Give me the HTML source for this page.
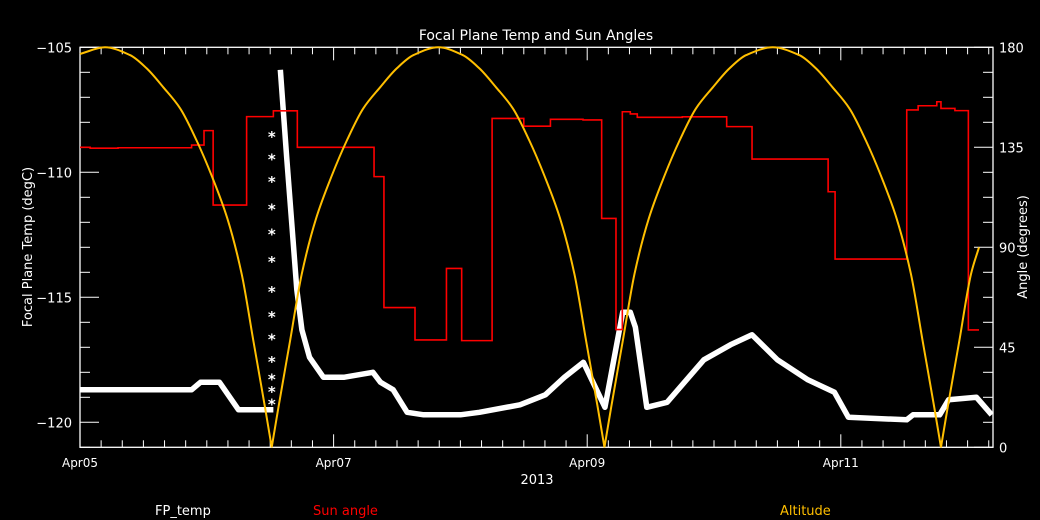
<!DOCTYPE html>
<html><head><meta charset="utf-8"><style>
html,body{margin:0;padding:0;background:#000;}
svg{display:block;font-family:"DejaVu Sans","Liberation Sans",sans-serif;}
</style></head><body>
<svg id="chart" width="1040" height="520" viewBox="0 0 1040 520" xmlns="http://www.w3.org/2000/svg">
<rect width="1040" height="520" fill="#000"/>
<text x="536" y="40" fill="#fff" font-size="14" text-anchor="middle">Focal Plane Temp and Sun Angles</text>
<text transform="translate(32,247) rotate(-90)" fill="#fff" font-size="13" text-anchor="middle">Focal Plane Temp (degC)</text>
<text transform="translate(1027,247) rotate(-90)" fill="#fff" font-size="13" text-anchor="middle">Angle (degrees)</text>
<text x="537" y="484" fill="#fff" font-size="13" text-anchor="middle">2013</text>
<text x="155" y="515" fill="#fff" font-size="13">FP_temp</text>
<text x="313" y="515" fill="#ff0000" font-size="13">Sun angle</text>
<text x="780" y="515" fill="#ffbf00" font-size="13">Altitude</text>
<g id="axes"></g>
<g id="series"></g>
</svg>
<script>
const xTickLabels = ["Apr05","Apr07","Apr09","Apr11"];
const xTickDays = [0,2,4,6];
const leftTicks = [-105,-110,-115,-120];
const rightTicks = [180,135,90,45,0];
// altitude: times (days since Apr05 00:00) and degrees
const altT = [0,0.197,0.394,0.526,0.657,0.79,0.92,1.04,1.162,1.275,1.367,1.459,1.512,
  1.565,1.657,1.749,1.862,1.984,2.104,2.234,2.367,2.498,2.63,2.826,
  3.018,3.15,3.281,3.414,3.544,3.664,3.786,3.899,3.991,4.083,4.136,
  4.189,4.281,4.373,4.486,4.608,4.728,4.858,4.991,5.122,5.254,5.463,
  5.672,5.804,5.935,6.068,6.198,6.318,6.44,6.553,6.645,6.737,6.79,
  6.843,6.935,7.027,7.09];
const altV = [177,180,176.5,170.5,162,152.5,138,122,103,78,48,18,0,
  18,48,78,103,122,138,152.5,162,170.5,176.5,180,
  176.5,170.5,162,152.5,138,122,103,78,48,18,0,
  18,48,78,103,122,138,152.5,162,170.5,176.5,180,
  176.5,170.5,162,152.5,138,122,103,78,48,18,0,
  18,48,78,90];
// sun angle step changes
const sunT = [0,0.08,0.3,0.88,0.978,1.05,1.314,1.525,1.714,2.319,2.397,2.642,2.89,3.01,3.25,3.5,3.71,3.967,4.114,4.227,4.277,4.34,4.395,4.75,5.1,5.3,5.9,5.955,6.52,6.61,6.757,6.79,6.9,7.006,7.09];
const sunV = [135,134.6,134.8,136,142.5,109,148.8,151.4,135,121.8,62.9,48.3,80.5,48,148,144.5,147.6,147.3,103,53,151,150,148.5,148.7,144.3,129.7,115,84.7,151.8,153.7,155.5,152.5,151.5,52.8,52.8];
// focal plane temp
const tempT = [0,0.88,0.95,1.1,1.25,1.525,1.58,1.63,1.68,1.71,1.75,1.81,1.92,2.08,2.31,2.37,2.47,2.58,2.71,3.0,3.15,3.47,3.67,3.82,3.97,4.14,4.28,4.34,4.38,4.47,4.63,4.92,5.13,5.3,5.5,5.74,5.95,6.06,6.52,6.57,6.78,6.85,7.07,7.19];
const tempV = [-118.7,-118.7,-118.4,-118.4,-119.5,-119.5,-105.9,-109.4,-112.7,-114.7,-116.3,-117.4,-118.2,-118.2,-118.0,-118.4,-118.7,-119.6,-119.7,-119.7,-119.6,-119.3,-118.9,-118.2,-117.6,-119.4,-115.6,-115.6,-116.2,-119.4,-119.2,-117.5,-116.9,-116.5,-117.5,-118.3,-118.8,-119.8,-119.9,-119.7,-119.7,-119.1,-119.0,-119.7];
const spikeT = 1.513;
const spikeV = [-119.2,-118.7,-118.2,-117.5,-116.6,-115.7,-114.7,-113.5,-112.4,-111.4,-110.3,-109.4,-108.5];

const X0=80, X1=993, Y0=47.3, Y1=447.3, PXD=126.8;
const xs = t => X0 + t*PXD;
const yL = v => Y0 + (-105 - v)*25;
const yR = a => Y1 - a/180*400;
const NS="http://www.w3.org/2000/svg";
function mk(tag, attrs, parent){const e=document.createElementNS(NS,tag);for(const k in attrs)e.setAttribute(k,attrs[k]);parent.appendChild(e);return e;}
const axes=document.getElementById('axes'), ser=document.getElementById('series');

const frame=mk('rect',{x:X0,y:Y0,width:X1-X0,height:Y1-Y0,fill:'none',stroke:'#fff','stroke-width':1.3},axes);


for(let i=0;i*PXD/6+X0<=X1+0.5;i++){
  const x=X0+i*PXD/6;
  const major = i%12===0;
  const len = major?13:7;
  const b=mk('line',{x1:x,y1:Y1,x2:x,y2:Y1-len,stroke:'#fff','stroke-width':1},axes);
  
  
  const t=mk('line',{x1:x,y1:Y0,x2:x,y2:Y0+len,stroke:'#fff','stroke-width':1},axes);
  
  
}
xTickLabels.forEach((s,i)=>{
  const e=mk('text',{x:xs(xTickDays[i]),y:467,fill:'#fff','font-size':12,'text-anchor':'middle'},axes);
  e.textContent=s;
  
  
});
for(let v=-105;v>=-121;v--){
  const y=yL(v); const major=(v%5===0);
  const e=mk('line',{x1:X0,y1:y,x2:X0+(major?19:10),y2:y,stroke:'#fff','stroke-width':1},axes);
  
  
}
leftTicks.forEach(v=>{
  const e=mk('text',{x:X0-8,y:yL(v)+5,fill:'#fff','font-size':13,'text-anchor':'end'},axes);
  e.textContent='\u2212'+Math.abs(v);
  
  
});
for(let i=0;i<=16;i++){
  const a=i*11.25; const y=yR(a); const major=i%4===0;
  const e=mk('line',{x1:X1,y1:y,x2:X1-(major?19:10),y2:y,stroke:'#fff','stroke-width':1},axes);
  
  
}
rightTicks.forEach(a=>{
  const e=mk('text',{x:X1+6,y:yR(a)+5,fill:'#fff','font-size':13},axes);
  e.textContent=a;
  
  
});

function tempPts(a,b){let p=[];for(let i=a;i<=b;i++)p.push(xs(tempT[i])+','+yL(tempV[i]));return p.join(' ');}
const tp1=mk('polyline',{points:tempPts(0,5),fill:'none',stroke:'#fff','stroke-width':5.5,'stroke-linejoin':'round'},ser);


const tp2=mk('polyline',{points:tempPts(6,tempT.length-1),fill:'none',stroke:'#fff','stroke-width':5.5,'stroke-linejoin':'round'},ser);


spikeV.forEach(v=>{
  const e=mk('text',{x:xs(spikeT),y:yL(v)+7,fill:'#fff','font-size':15,'font-weight':'bold','text-anchor':'middle'},ser);
  e.textContent='*';
  
  
});
let d='';
sunT.forEach((t,i)=>{
  if(i===0) d+='M'+xs(t)+','+yR(sunV[i]);
  else d+=' H'+xs(t)+' V'+yR(sunV[i]);
});
const sp=mk('path',{d:d,fill:'none',stroke:'#ff0000','stroke-width':1.6},ser);


// altitude: monotone cubic per segment between zero crossings
let segs=[],cur=[0];
for(let i=1;i<altT.length;i++){cur.push(i);if(altV[i]===0){segs.push(cur);cur=[i];}}
if(cur.length>1)segs.push(cur);
let ad='';
segs.forEach(s=>{
  const X=s.map(i=>altT[i]), Y=s.map(i=>altV[i]), n=X.length;
  const dl=[];for(let k=0;k<n-1;k++)dl.push((Y[k+1]-Y[k])/(X[k+1]-X[k]));
  const m=new Array(n);
  m[0]=dl[0]; m[n-1]=dl[n-2];
  for(let k=1;k<n-1;k++){m[k]=(dl[k-1]*dl[k]<=0)?0:2/(1/dl[k-1]+1/dl[k]);}
  ad+='M'+xs(X[0])+','+yR(Y[0]);
  for(let k=0;k<n-1;k++){
    const h=X[k+1]-X[k];
    ad+=' C'+xs(X[k]+h/3)+','+yR(Y[k]+m[k]*h/3)+' '+xs(X[k+1]-h/3)+','+yR(Y[k+1]-m[k+1]*h/3)+' '+xs(X[k+1])+','+yR(Y[k+1]);
  }
});
const ap=mk('path',{d:ad,fill:'none',stroke:'#ffbf00','stroke-width':2,'stroke-linejoin':'round'},ser);


</script>
</body></html>
